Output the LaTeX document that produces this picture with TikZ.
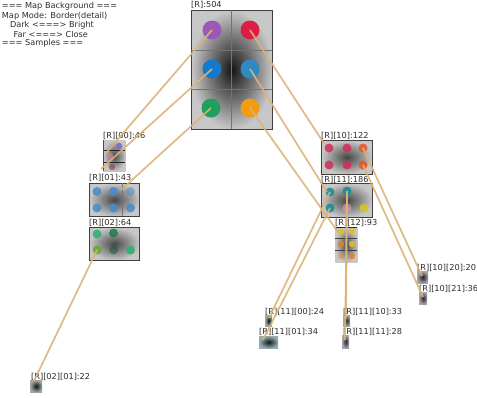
\documentclass[tikz,border=0pt]{standalone}
\usepackage{fontspec}
\setmainfont{DejaVu Sans}
\definecolor{linkc}{RGB}{218,180,120}
\definecolor{txt}{RGB}{45,45,45}
\definecolor{cpurple}{RGB}{155,89,182}
\definecolor{cred}{RGB}{220,30,70}
\definecolor{cblueA}{RGB}{22,120,200}
\definecolor{cblueB}{RGB}{45,138,195}
\definecolor{cgreen}{RGB}{30,160,95}
\definecolor{corange}{RGB}{243,156,18}
\definecolor{sblue}{RGB}{70,140,200}
\definecolor{sgreen}{RGB}{45,175,110}
\definecolor{scrimson}{RGB}{210,45,90}
\definecolor{sorred}{RGB}{232,84,40}
\definecolor{steal}{RGB}{20,140,150}
\definecolor{syellow}{RGB}{215,195,40}
\definecolor{sorange}{RGB}{228,130,40}
\tikzset{
  lbl/.style={anchor=west, inner sep=0pt, text=txt, font=\fontsize{8.2pt}{9pt}\selectfont},
  mapbox/.style={anchor=north west, draw=black!75, line width=0.7pt, inner sep=0pt,
    inner color=black!72, outer color=black!22},
  leafbox/.style={anchor=north west, draw=none, inner sep=0pt,
    inner color=black!85, outer color=black!35},
  bigdot/.style={circle, inner sep=0pt, minimum size=19pt},
  smalldot/.style={circle, inner sep=0pt, minimum size=9pt, opacity=0.85},
  tinydot/.style={circle, inner sep=0pt, minimum size=6.5pt, opacity=0.85},
  divider/.style={draw=black!55, line width=0.4pt},
  link/.style={draw=linkc, line width=1.7pt, opacity=0.9},
}
\begin{document}
\begin{tikzpicture}[x=1pt, y=-1pt]
\useasboundingbox[fill=white] (0,0) rectangle (477,397);

% legend text
\node[lbl] (h1) at (1.7,6.5) {=== Map Background ===};
\node[lbl] (h2) at (1.7,16) {Map Mode: Border(detail)};
\node[lbl] (h3) at (9.8,25.3) {Dark <===> Bright};
\node[lbl] (h4) at (13.5,34.5) {Far <===> Close};
\node[lbl] (h5) at (1.7,43.7) {=== Samples ===};

% root map
\node[lbl] (lroot) at (191,5) {[R]:504};
\node[mapbox, minimum width=81pt, minimum height=119pt, inner color=black!92, outer color=black!22] (root) at (191,10) {};
\draw[divider] (231.5,10) -- (231.5,129);
\draw[divider] (191,50) -- (272,50);
\draw[divider] (191,89) -- (272,89);
\node[bigdot, fill=cpurple] (r00) at (212,30) {};
\node[bigdot, fill=cred] (r10) at (250,30) {};
\node[bigdot, fill=cblueA] (r01) at (212,69) {};
\node[bigdot, fill=cblueB] (r11) at (250,69) {};
\node[bigdot, fill=cgreen] (r02) at (211,108) {};
\node[bigdot, fill=corange] (r12) at (250,108) {};

% [R][00]
\node[lbl] (l00) at (103,136) {[R][00]:46};
\node[mapbox, draw=none, minimum width=22pt, minimum height=31pt] (m00) at (103,140) {};
\draw[draw=black!85, line width=0.8pt] (103,150) -- (125,150);
\draw[draw=black!85, line width=0.8pt] (103,162) -- (125,162);
\draw[draw=black!70, line width=0.6pt] (103,140) -- (103,171);
\node[tinydot, fill=cpurple!60!sblue] (d00a) at (119,146) {};
\node[tinydot, fill=scrimson!60!white, opacity=0.6] (d00b) at (110,156) {};
\node[tinydot, fill=scrimson!70!black, opacity=0.5] (d00c) at (112,167) {};

% [R][01]
\node[lbl] (l01) at (89,178) {[R][01]:43};
\node[mapbox, minimum width=50pt, minimum height=33pt] (m01) at (89,183) {};
\draw[divider] (122,183) -- (122,216);
\node[smalldot, fill=sblue] (d01a) at (97,191.5) {};
\node[smalldot, fill=sblue] (d01b) at (113.5,191.5) {};
\node[smalldot, fill=sblue, opacity=0.5] (d01c) at (130.5,191.5) {};
\node[smalldot, fill=sblue] (d01d) at (97,208) {};
\node[smalldot, fill=sblue] (d01e) at (113.5,208) {};
\node[smalldot, fill=sblue] (d01f) at (130.5,208) {};

% [R][02]
\node[lbl] (l02) at (89,222.5) {[R][02]:64};
\node[mapbox, minimum width=50pt, minimum height=33pt] (m02) at (89,227) {};
\node[smalldot, fill=sgreen] (d02a) at (97,234) {};
\node[smalldot, fill=sgreen!70!black] (d02b) at (113.5,233) {};
\node[smalldot, fill=sgreen!60!yellow!80!black] (d02c) at (97,250) {};
\node[smalldot, fill=sgreen!50!black, opacity=0.5] (d02d) at (113.5,250) {};
\node[smalldot, fill=sgreen] (d02e) at (130.5,250) {};

% [R][10]
\node[lbl] (l10) at (321,136) {[R][10]:122};
\node[mapbox, minimum width=51pt, minimum height=34pt] (m10) at (321,140) {};
\node[smalldot, fill=scrimson] (d10a) at (329,148) {};
\node[smalldot, fill=scrimson] (d10b) at (347,148) {};
\node[smalldot, fill=sorred] (d10c) at (363,148) {};
\node[smalldot, fill=scrimson] (d10d) at (329,165) {};
\node[smalldot, fill=scrimson] (d10e) at (347,165) {};
\node[smalldot, fill=sorred] (d10f) at (363,165) {};

% [R][11]
\node[lbl] (l11) at (321,179.5) {[R][11]:186};
\node[mapbox, minimum width=51pt, minimum height=34pt] (m11) at (321,183) {};
\node[smalldot, fill=steal] (d11a) at (330,192) {};
\node[smalldot, fill=steal] (d11b) at (347,191) {};
\node[smalldot, fill=steal] (d11d) at (330,208) {};
\node[smalldot, fill=scrimson!50!white, opacity=0.6] (d11e) at (347,208) {};
\node[smalldot, fill=syellow] (d11f) at (364,208) {};

% [R][12]
\node[lbl] (l12) at (335,222.7) {[R][12]:93};
\node[mapbox, draw=none, minimum width=22pt, minimum height=35pt] (m12) at (335,227) {};
\draw[draw=black!85, line width=0.8pt] (335,227) -- (357,227);
\draw[draw=black!75, line width=0.7pt] (335,238) -- (357,238);
\draw[draw=black!75, line width=0.7pt] (335,250) -- (357,250);
\node[tinydot, fill=syellow] (d12a) at (341,232) {};
\node[tinydot, fill=syellow] (d12b) at (352,231) {};
\node[tinydot, fill=sorange] (d12c) at (341,244) {};
\node[tinydot, fill=syellow] (d12d) at (352,244) {};
\node[tinydot, fill=sorange, opacity=0.4] (d12e) at (341,256) {};
\node[tinydot, fill=sorange] (d12f) at (352,256) {};

% leaf samples
\node[lbl] (l1020) at (417,268) {[R][10][20]:20};
\node[leafbox, minimum width=11pt, minimum height=12pt, inner color=black!75!cpurple] (m1020) at (417,271) {};
\node[lbl] (l1021) at (419,288.5) {[R][10][21]:36};
\node[leafbox, minimum width=8pt, minimum height=12pt, inner color=black!70!cpurple] (m1021) at (419,292) {};
\node[lbl] (l1100) at (265,311.5) {[R][11][00]:24};
\node[leafbox, minimum width=7pt, minimum height=11pt, inner color=black!85!steal] (m1100) at (265,315) {};
\node[lbl] (l1101) at (259,331.5) {[R][11][01]:34};
\node[leafbox, minimum width=19pt, minimum height=12pt, inner color=black!80!steal, outer color=steal!30!black!40] (m1101) at (259,336) {};
\node[lbl] (l1110) at (343,311.5) {[R][11][10]:33};
\node[leafbox, minimum width=7pt, minimum height=11pt] (m1110) at (343,315) {};
\node[lbl] (l1111) at (343,331.5) {[R][11][11]:28};
\node[leafbox, minimum width=7pt, minimum height=13pt, inner color=black!70!cpurple] (m1111) at (342,335) {};
\node[lbl] (l0201) at (31,376.5) {[R][02][01]:22};
\node[leafbox, minimum width=12pt, minimum height=12pt, inner color=black!85!sgreen, outer color=black!35] (m0201) at (30,380) {};

% link end points
\coordinate (e00) at (106,153);
\coordinate (e01) at (101,169);
\coordinate (e02) at (121,190);
\coordinate (e10) at (325,145);
\coordinate (e11) at (327,192);
\coordinate (e12) at (338,232);
\coordinate (e1020) at (422,276);
\coordinate (e1021) at (423,297);
\coordinate (e1100) at (269,318);
\coordinate (e1101) at (263,340);
\coordinate (e1110) at (346,318);
\coordinate (e1111) at (345,340);
\coordinate (e0201) at (34,381);

% links from parents to child maps
\draw[link] (r00.center) -- (e00);
\draw[link] (r01.center) -- (e01);
\draw[link] (r02.center) -- (e02);
\draw[link] (r10.center) -- (e10);
\draw[link] (r11.center) -- (e11);
\draw[link] (r12.center) -- (e12);
\draw[link] (d10c.center) -- (e1020);
\draw[link] (d10f.center) -- (e1021);
\draw[link] (d11a.center) -- (e1100);
\draw[link] (d11d.center) -- (e1101);
\draw[link] (d11b.center) -- (e1110);
\draw[link] (d11b.center) -- (e1111);
\draw[link] (d02c.center) -- (e0201);
\end{tikzpicture}
\end{document}
